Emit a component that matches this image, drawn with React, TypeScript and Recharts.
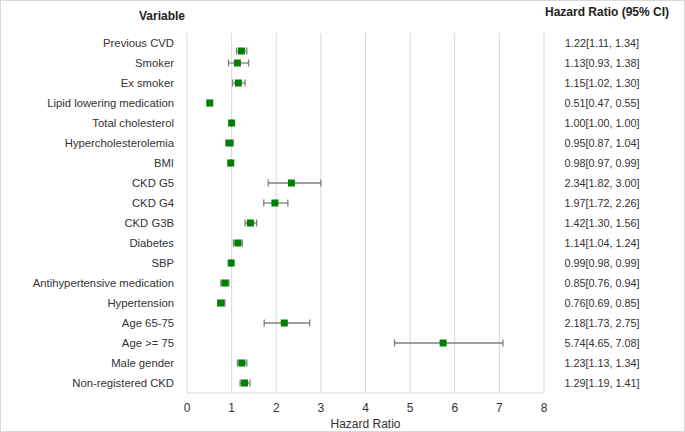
import { ScatterChart, Scatter, XAxis, YAxis, CartesianGrid, ErrorBar } from 'recharts';

const variables = [
  'Previous CVD', 'Smoker', 'Ex smoker', 'Lipid lowering medication', 'Total cholesterol',
  'Hypercholesterolemia', 'BMI', 'CKD G5', 'CKD G4', 'CKD G3B', 'Diabetes', 'SBP',
  'Antihypertensive medication', 'Hypertension', 'Age 65-75', 'Age >= 75', 'Male gender',
  'Non-registered CKD',
];
const hazard = [1.22, 1.13, 1.15, 0.51, 1.0, 0.95, 0.98, 2.34, 1.97, 1.42, 1.14, 0.99, 0.85, 0.76, 2.18, 5.74, 1.23, 1.29];
const lower = [1.11, 0.93, 1.02, 0.47, 1.0, 0.87, 0.97, 1.82, 1.72, 1.3, 1.04, 0.98, 0.76, 0.69, 1.73, 4.65, 1.13, 1.19];
const upper = [1.34, 1.38, 1.3, 0.55, 1.0, 1.04, 0.99, 3.0, 2.26, 1.56, 1.24, 0.99, 0.94, 0.85, 2.75, 7.08, 1.34, 1.41];
// row position of each marker (top row = 18); the first marker sits a bit low in the original
const rowPos = [17.6, 17, 16, 15, 14, 13, 12, 11, 10, 9, 8, 7, 6, 5, 4, 3, 2, 1];
const rowTicks = [1, 2, 3, 4, 5, 6, 7, 8, 9, 10, 11, 12, 13, 14, 15, 16, 17, 18];
const xTicks = [0, 1, 2, 3, 4, 5, 6, 7, 8];

const data = variables.map((name, i) => ({
  name,
  hr: hazard[i],
  row: rowPos[i],
  err: [hazard[i] - lower[i], upper[i] - hazard[i]],
}));

const fmt = (v: number) => v.toFixed(2);
const ciText = variables.map((_, i) => `${fmt(hazard[i])}[${fmt(lower[i])}, ${fmt(upper[i])}]`);

const font = '"Liberation Sans", Arial, sans-serif';

// left tick draws the variable name and, in the right column, its HR text
const RowTick = ({ x, y, payload }: any) => {
  const i = 18 - payload.value;
  return (
    <g>
      <text x={x} y={y} dy={4} textAnchor="end" fontSize={11.3} fill="#333" fontFamily={font}>
        {variables[i]}
      </text>
      <text x={x + 428} y={y} dy={4} textAnchor="middle" fontSize={10.8} fill="#333" fontFamily={font}>
        {ciText[i]}
      </text>
    </g>
  );
};

const Square = ({ cx, cy }: any) => <rect x={cx - 3.5} y={cy - 3.5} width={7} height={7} fill="#008000" />;

export default function App() {
  return (
    <div style={{ position: 'absolute', left: 0, top: 0, width: 685, height: 432, background: '#fff', fontFamily: font }}>
      <div style={{ position: 'absolute', right: 685 - 185, top: 9, fontSize: 12, fontWeight: 700, color: '#222' }}>Variable</div>
      <div style={{ position: 'absolute', left: 545, top: 5, fontSize: 12, fontWeight: 700, color: '#222' }}>
        Hazard Ratio (95% CI)
      </div>
      <ScatterChart width={685} height={432} margin={{ top: 33, right: 141, bottom: 0, left: 0 }}>
        <CartesianGrid horizontal={false} stroke="#d9d9d9" />
        <XAxis
          type="number"
          dataKey="hr"
          domain={[0, 8]}
          ticks={xTicks}
          interval={0}
          height={39}
          tickSize={0}
          tickMargin={10}
          axisLine={{ stroke: '#d9d9d9' }}
          tick={{ fontSize: 12, fill: '#333', fontFamily: font }}
          label={{ value: 'Hazard Ratio', position: 'insideBottom', offset: 4, fontSize: 12, fill: '#333', fontFamily: font }}
        />
        <YAxis
          type="number"
          dataKey="row"
          domain={[0.5, 18.5]}
          ticks={rowTicks}
          interval={0}
          width={187}
          tickSize={0}
          tickMargin={13}
          axisLine={false}
          tick={<RowTick />}
        />
        <Scatter data={data} shape={<Square />} isAnimationActive={false}>
          <ErrorBar dataKey="err" direction="x" width={3.5} stroke="#7f7f7f" strokeWidth={1.3} />
        </Scatter>
      </ScatterChart>
      <div
        style={{
          position: 'absolute', left: 0, top: 0, width: 685, height: 432, boxSizing: 'border-box',
          border: '1px solid #d9d9d9', pointerEvents: 'none',
        }}
      />
    </div>
  );
}
